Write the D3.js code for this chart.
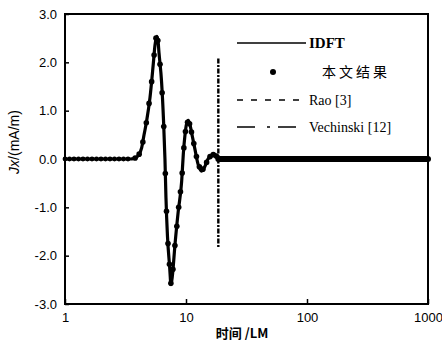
<!DOCTYPE html>
<html>
<head>
<meta charset="utf-8">
<script src="https://cdn.jsdelivr.net/npm/d3@7"></script>
<style>
  body { margin: 0; background: #fff; }
  text { fill: #000; }
</style>
</head>
<body>
<svg id="chart"></svg>
<script>
// IDFT curve (time in LM, Jx in mA/m)
var idftTime = [1, 3.44, 3.72, 4.01, 4.30, 4.50, 4.73, 5.04, 5.37, 5.54, 5.73, 5.87, 5.98, 6.28, 6.52, 6.70, 6.83, 7.03, 7.31, 7.52,
                7.73, 8.11, 8.63, 9.21, 9.50, 9.81, 10.1, 10.45, 10.8, 11.32, 11.86, 12.56, 13.48, 14.35, 15.2, 16.1, 17.0, 17.9, 18.5, 1000];
var idftVal  = [0, 0, 0.01, 0.06, 0.23, 0.5, 0.79, 1.27, 1.98, 2.35, 2.54, 2.45, 2.2, 1.6, 0.8, 0, -0.8, -1.6, -2.2, -2.6,
                -2.4, -1.77, -1.08, -0.46, 0.1, 0.5, 0.72, 0.8, 0.7, 0.45, 0.2, -0.1, -0.25, -0.15, 0, 0.07, 0.1, 0.05, 0, 0];

// "本文结果" markers along the transient
var dotTime = [3.8, 4.1, 4.4, 4.7, 4.95, 5.2, 5.45, 5.65, 5.85, 6.1, 6.35, 6.55, 6.75, 6.9, 7.1, 7.3, 7.5, 7.8, 8.1, 8.4,
               8.7, 9.0, 9.3, 9.6, 9.9, 10.3, 10.7, 11.1, 11.6, 12.2, 12.9, 13.8, 14.8, 15.8, 16.8, 17.8];
var dotVal  = [0.02, 0.1, 0.35, 0.75, 1.15, 1.6, 2.15, 2.5, 2.45, 1.96, 1.37, 0.67, -0.3, -1.08, -1.75, -2.18, -2.57, -2.28, -1.79, -1.39,
               -1.0, -0.68, -0.29, 0.23, 0.57, 0.76, 0.73, 0.56, 0.32, 0.05, -0.16, -0.21, -0.07, 0.05, 0.09, 0.06];
// flat stretches where the markers sit on zero
var dotFlatStart = [1, 18.5];
var dotFlatEnd   = [3.6, 1000];

// Vechinski [12] spike
var vechTime = [18.5, 18.5];
var vechVal  = [2.08, -1.85];

var yTicks = [-3, -2, -1, 0, 1, 2, 3];
var xTicks = [1, 10, 100, 1000];

var legendLabels = ["IDFT", "本文结果", "Rao [3]", "Vechinski [12]"];

var width = 442, height = 344;
var margin = {left: 65, right: 14, top: 14, bottom: 40};

var svg = d3.select("#chart").attr("width", width).attr("height", height);

var x = d3.scaleLog().domain([1, 1000]).range([margin.left, width - margin.right]);
var y = d3.scaleLinear().domain([-3, 3]).range([height - margin.bottom, margin.top]);

// axes (ticks inward)
svg.append("g")
    .attr("transform", "translate(0," + y(-3) + ")")
    .call(d3.axisBottom(x).tickValues(xTicks).tickSize(-5).tickPadding(9).tickFormat(d3.format("d")))
    .call(function(g) {
        g.select(".domain").remove();
        g.selectAll(".tick line").attr("stroke-width", 1.5);
        g.selectAll("text").attr("font-family", "Liberation Sans, Arial, sans-serif").attr("font-size", 13);
    });

svg.append("g")
    .attr("transform", "translate(" + x(1) + ",0)")
    .call(d3.axisLeft(y).tickValues(yTicks).tickSize(-4).tickPadding(8)
        .tickFormat(function(d) { return d3.format(".1f")(d).replace("−", "-"); }))
    .call(function(g) {
        g.select(".domain").remove();
        g.selectAll(".tick line").attr("stroke-width", 1.5);
        g.selectAll("text").attr("font-family", "Liberation Sans, Arial, sans-serif").attr("font-size", 13);
    });

// frame
svg.append("rect")
    .attr("x", x(1)).attr("y", y(3))
    .attr("width", x(1000) - x(1)).attr("height", y(-3) - y(3))
    .attr("fill", "none").attr("stroke", "#000").attr("stroke-width", 2);

var line = d3.line()
    .x(function(d) { return x(d[0]); })
    .y(function(d) { return y(d[1]); })
    .curve(d3.curveMonotoneX);

var idft = d3.zip(idftTime, idftVal);

// Rao [3] (coincides with IDFT)
svg.append("path")
    .datum(idft)
    .attr("d", line)
    .attr("fill", "none").attr("stroke", "#000").attr("stroke-width", 1.5)
    .attr("stroke-dasharray", "3 3");

svg.append("path")
    .datum(idft)
    .attr("d", line)
    .attr("fill", "none").attr("stroke", "#000").attr("stroke-width", 3.2)
    .attr("stroke-linejoin", "round");

// flat stretches of markers: spaced at the start, merged into a band later
svg.selectAll(".flat")
    .data(d3.zip(dotFlatStart, dotFlatEnd))
    .enter().append("line")
    .attr("x1", function(d) { return x(d[0]); })
    .attr("x2", function(d) { return x(d[1]); })
    .attr("y1", y(0)).attr("y2", y(0))
    .attr("stroke", "#000")
    .attr("stroke-width", function(d, i) { return i === 0 ? 4.8 : 6; })
    .attr("stroke-linecap", "round")
    .attr("stroke-dasharray", function(d, i) { return i === 0 ? "0 4.5" : null; });

svg.selectAll(".dot")
    .data(d3.zip(dotTime, dotVal))
    .enter().append("circle")
    .attr("cx", function(d) { return x(d[0]); })
    .attr("cy", function(d) { return y(d[1]); })
    .attr("r", 2.8)
    .attr("fill", "#000");

// Vechinski spike
svg.append("path")
    .datum(d3.zip(vechTime, vechVal))
    .attr("d", d3.line().x(function(d) { return x(d[0]); }).y(function(d) { return y(d[1]); }))
    .attr("fill", "none").attr("stroke", "#000").attr("stroke-width", 2.4)
    .attr("stroke-dasharray", "5 1.5 2 1.5");

// legend
var lx1 = 237, lx2 = 306, ltx = 309;
var ly = [43, 72, 100, 127];
var lg = svg.append("g").attr("font-family", "Liberation Serif, Times New Roman, serif");

lg.append("line").attr("x1", lx1).attr("x2", lx2).attr("y1", ly[0]).attr("y2", ly[0])
    .attr("stroke", "#000").attr("stroke-width", 1.6);
lg.append("circle").attr("cx", 273).attr("cy", ly[1]).attr("r", 3).attr("fill", "#000");
lg.append("line").attr("x1", lx1).attr("x2", 300).attr("y1", ly[2]).attr("y2", ly[2])
    .attr("stroke", "#000").attr("stroke-width", 1.6).attr("stroke-dasharray", "6 8");
lg.append("line").attr("x1", lx1).attr("x2", lx2).attr("y1", ly[3]).attr("y2", ly[3])
    .attr("stroke", "#000").attr("stroke-width", 1.6).attr("stroke-dasharray", "18 12 3 8");

lg.selectAll(".ltext")
    .data(legendLabels)
    .enter().append("text")
    .attr("x", function(d, i) { return i === 1 ? 322 : ltx; })
    .attr("y", function(d, i) { return ly[i]; })
    .attr("dy", "0.35em")
    .attr("font-size", function(d, i) { return i === 0 ? 15 : 14; })
    .attr("font-weight", function(d, i) { return i === 0 ? "bold" : "normal"; })
    .attr("font-family", function(d, i) { return i === 1 ? "Noto Sans CJK SC, serif" : null; })
    .attr("letter-spacing", function(d, i) { return i === 1 ? 3 : 0; })
    .text(function(d) { return d; });

// axis titles
var yt = svg.append("text")
    .attr("transform", "translate(19,142) rotate(-90)")
    .attr("text-anchor", "middle")
    .attr("font-family", "Liberation Sans, Arial, sans-serif")
    .attr("font-size", 14);
yt.append("tspan").attr("font-style", "italic").text("Jx");
yt.append("tspan").text("/(mA/m)");

svg.append("text")
    .attr("x", 242).attr("y", 338)
    .attr("text-anchor", "middle")
    .attr("font-family", "Noto Sans CJK SC, sans-serif")
    .attr("font-weight", "bold")
    .attr("font-size", 13)
    .text("时间 /LM");
</script>
</body>
</html>
